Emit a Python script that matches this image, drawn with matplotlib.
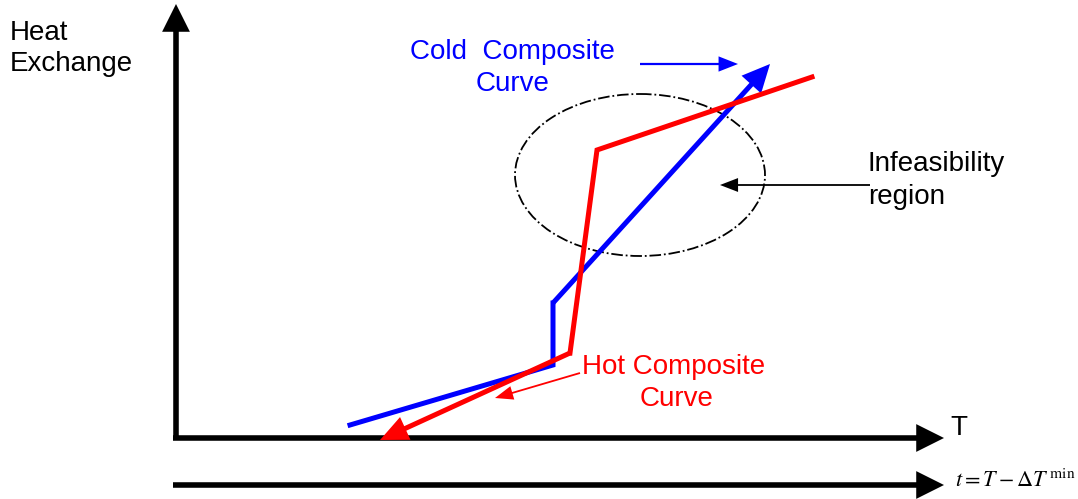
import numpy as np
import matplotlib
matplotlib.use('Agg')
import matplotlib.pyplot as plt
from matplotlib.patches import Ellipse, FancyArrowPatch

plt.rcParams['font.family'] = ['Liberation Sans', 'DejaVu Sans']

# diagram points (pixel-like units, y grows downwards)
cold_x = [350, 553, 553, 770]
cold_y = [425, 365, 303, 64]
hot_x = [812, 597, 570, 380]
hot_y = [77, 150, 353, 440]

W, H = 1078, 499
fig = plt.figure(figsize=(W / 100, H / 100), dpi=100)
ax = fig.add_axes([0, 0, 1, 1])
ax.set_xlim(0, W)
ax.set_ylim(H, 0)
ax.axis('off')

def arrow(x0, y0, x1, y1, color, lw, hw, hl, z=2):
    ax.add_patch(FancyArrowPatch((x0, y0), (x1, y1), color=color, lw=0, zorder=z,
                 arrowstyle='simple,head_width=%g,head_length=%g,tail_width=%g' % (hw, hl, lw),
                 mutation_scale=1, shrinkA=0, shrinkB=0))

# axes
arrow(176, 440, 176, 4, 'black', 4, 20, 20)
arrow(173, 438, 944, 438, 'black', 4, 20, 20)
arrow(173, 485, 944, 485, 'black', 4, 20, 20)

# curves
ax.plot(cold_x[:-1], cold_y[:-1], color='#0000ff', lw=3.6, solid_joinstyle='miter', zorder=3)
arrow(cold_x[2], cold_y[2], cold_x[3], cold_y[3], '#0000ff', 3.6, 19, 20, z=3)
ax.plot(hot_x[:-1], hot_y[:-1], color='#ff0000', lw=3.6, solid_joinstyle='miter', zorder=4)
arrow(hot_x[2], hot_y[2], hot_x[3], hot_y[3], '#ff0000', 3.6, 18, 20, z=4)

# infeasibility ellipse
ax.add_patch(Ellipse((640, 175), 250, 162, fill=False, ls='-.', lw=1.3, color='black'))

# annotation arrows
arrow(640, 64, 738, 64, '#0000ff', 1.6, 11, 14)
arrow(870, 185, 720, 185, 'black', 1.3, 10, 13)
arrow(580, 373, 495, 398, '#ff0000', 1.3, 10, 13)

fs = 20
ax.text(10, 33, 'Heat', fontsize=fs, ha='left', va='center')
ax.text(10, 64, 'Exchange', fontsize=fs, ha='left', va='center')
ax.text(410, 52, 'Cold  Composite', fontsize=fs, color='#0000ff', ha='left', va='center')
ax.text(513, 84, 'Curve', fontsize=fs, color='#0000ff', ha='center', va='center')
ax.text(868, 164, 'Infeasibility', fontsize=fs, ha='left', va='center')
ax.text(868, 197, 'region', fontsize=fs, ha='left', va='center')
ax.text(674, 367, 'Hot Composite', fontsize=fs, color='#ff0000', ha='center', va='center')
ax.text(677, 399, 'Curve', fontsize=fs, color='#ff0000', ha='center', va='center')
ax.text(950, 428, 'T', fontsize=fs, ha='left', va='center')
ax.text(955, 481, r'$t=T-\Delta T^{\,\mathrm{min}}$', fontsize=16, ha='left', va='center',
        math_fontfamily='stix')

fig.savefig('out.png', dpi=100)
